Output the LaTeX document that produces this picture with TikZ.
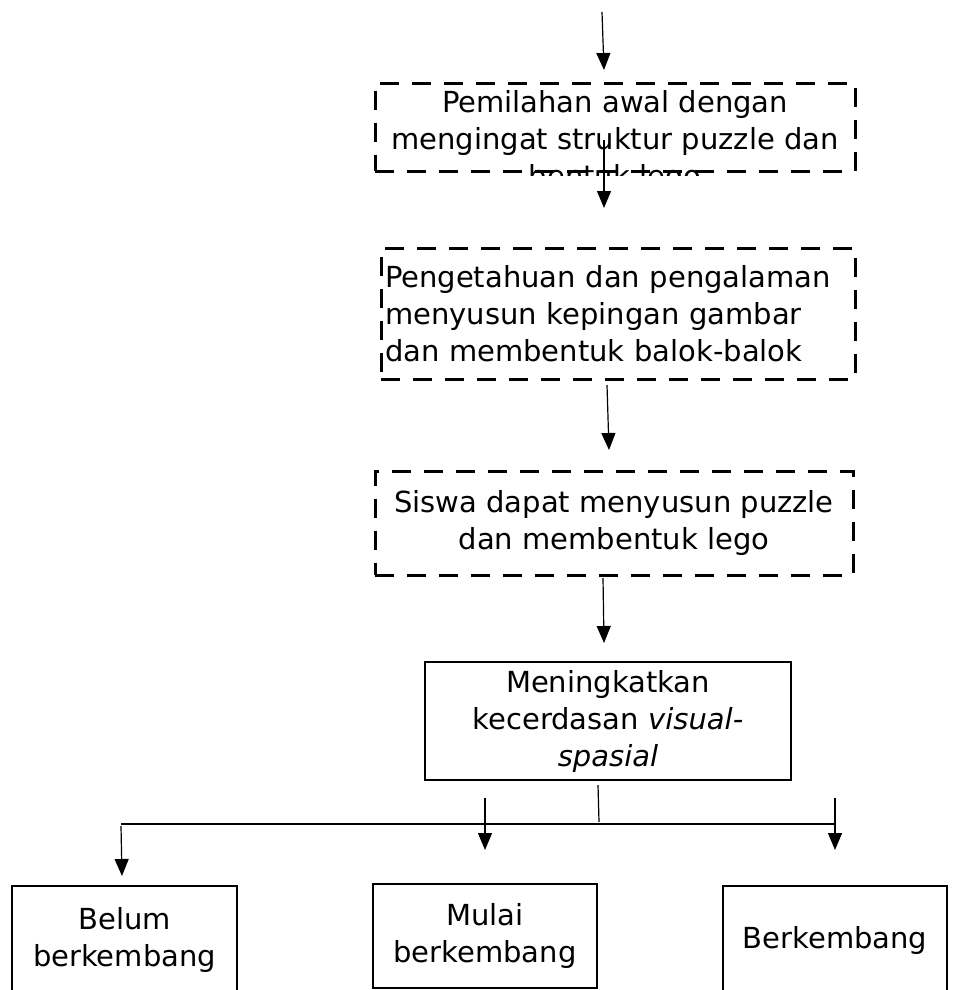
\documentclass[tikz,border=0pt]{standalone}
\usepackage{fontspec}
\setmainfont{DejaVu Sans}
\usetikzlibrary{arrows.meta}

\begin{document}
\begin{tikzpicture}[x=1pt,y=-1pt,
    font=\fontsize{29}{37}\selectfont,
    arr/.style={-{Triangle[length=17pt,width=14pt]},line width=1.2pt},
    link/.style={line width=1.2pt},
    dashbox/.style={draw,line width=3pt,dash pattern=on 19pt off 13pt,inner sep=0pt},
    plainbox/.style={draw,line width=2.8pt,inner sep=0pt}]
    \useasboundingbox (0,0) rectangle (958,990);

    % Top incoming arrow
    \coordinate (in0) at (602,12);
    \coordinate (in1) at (604,70);
    \draw[arr] (in0) -- (in1);

    % First stage box
    \node[dashbox,minimum width=480pt,minimum height=88pt] (pilah) at (615,127) {};
    \begin{scope}
        \clip (pilah.north west) rectangle ([yshift=-3pt]pilah.south east);
        \node[align=center,anchor=north,inner sep=0pt] (pilahtxt) at (615,90)
            {Pemilahan awal dengan\\mengingat struktur puzzle dan\\bentuk lego};
    \end{scope}
    \coordinate (p0) at (604,140);
    \coordinate (p1) at (604,208);
    \draw[arr] (p0) -- (p1);

    % Second stage box
    \node[dashbox,minimum width=474pt,minimum height=131pt,text width=466pt,align=left] (tahu) at (618,313.5)
        {Pengetahuan dan pengalaman\\menyusun kepingan gambar\\dan membentuk balok-balok};
    \coordinate (q0) at (607,385);
    \coordinate (q1) at (609,450);
    \draw[arr] (q0) -- (q1);

    % Third stage box
    \node[dashbox,minimum width=478pt,minimum height=104pt,align=center] (susun) at (614,523)
        {Siswa dapat menyusun puzzle\\dan membentuk lego};
    \coordinate (r0) at (603,578);
    \coordinate (r1) at (604,643);
    \draw[arr] (r0) -- (r1);

    % Fourth stage box
    \node[plainbox,minimum width=366pt,minimum height=118pt,align=center] (tingkat) at (608,721)
        {Meningkatkan\\kecerdasan \textit{visual-}\\\textit{spasial}};

    % Branching
    \coordinate (t0) at (598,785);
    \coordinate (t1) at (599,822);
    \draw[link] (t0) -- (t1);
    \coordinate (h0) at (121,824);
    \coordinate (h1) at (835,824);
    \draw[link] (h0) -- (h1);
    \coordinate (b0) at (121,826);
    \coordinate (b1) at (122,876);
    \draw[arr] (b0) -- (b1);
    \coordinate (m0) at (485,798);
    \coordinate (m1) at (485,850);
    \draw[arr] (m0) -- (m1);
    \coordinate (k0) at (835,798);
    \coordinate (k1) at (835,850);
    \draw[arr] (k0) -- (k1);

    % Result boxes
    \node[plainbox,minimum width=225pt,minimum height=108pt,align=center] (belum) at (124.5,940)
        {Belum\\berkembang};
    \node[plainbox,minimum width=224pt,minimum height=104pt,align=center] (mulai) at (485,936)
        {Mulai\\berkembang};
    \node[plainbox,minimum width=224pt,minimum height=108pt] (kembang) at (835,940) {Berkembang};
\end{tikzpicture}
\end{document}
